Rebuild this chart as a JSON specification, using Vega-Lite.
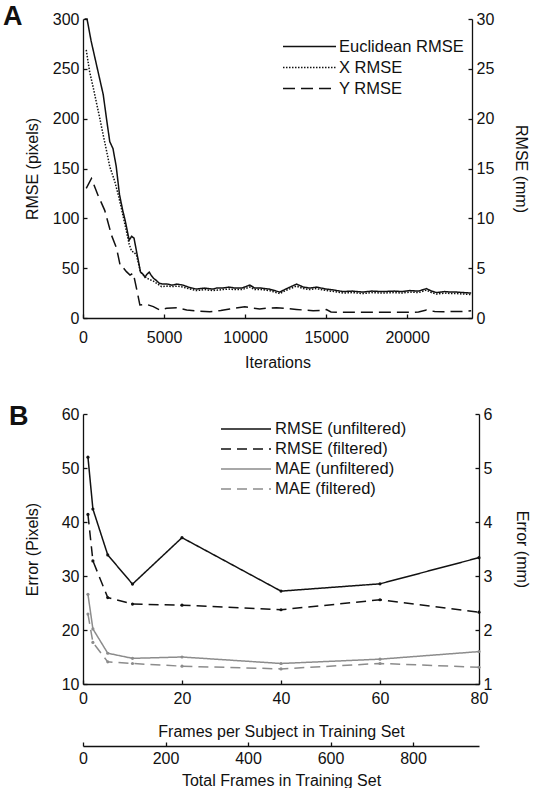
{
  "$schema": "https://vega.github.io/schema/vega-lite/v6.json",
  "padding": {"left": 3, "top": 3, "right": 0, "bottom": 0},
  "background": "white",
  "spacing": 33,
  "resolve": {"scale": {"color": "independent", "strokeDash": "independent"}, "legend": {"color": "independent", "strokeDash": "independent"}},
  "config": {
    "view": {"stroke": null},
    "font": "Liberation Sans",
    "axis": {
      "domainColor": "#111", "domainWidth": 1.3, "tickColor": "#111", "tickWidth": 1.3, "tickSize": -4,
      "labelFont": "Liberation Sans", "labelFontSize": 16, "labelColor": "#111",
      "titleFont": "Liberation Sans", "titleFontSize": 16, "titleFontWeight": "normal", "titleColor": "#111",
      "grid": false, "labelFlush": false, "labelOverlap": false
    },
    "axisY": {"labelPadding": 8},
    "legend": {"labelFont": "Liberation Sans", "labelColor": "#111"},
    "title": {"font": "Liberation Sans", "color": "#111"}
  },
  "vconcat": [
    {
      "title": {"text": "A", "anchor": "start", "frame": "group", "dx": -80, "fontSize": 27, "fontWeight": "bold", "offset": -20},
      "width": 389,
      "height": 299,
      "layer": [
        {
          "data": {"values": [
            {"s": "Euclidean RMSE", "i": 100, "v": 300}, {"s": "Euclidean RMSE", "i": 250, "v": 300}, {"s": "Euclidean RMSE", "i": 500, "v": 278}, {"s": "Euclidean RMSE", "i": 750, "v": 260}, {"s": "Euclidean RMSE", "i": 1000, "v": 242}, {"s": "Euclidean RMSE", "i": 1250, "v": 224}, {"s": "Euclidean RMSE", "i": 1450, "v": 200}, {"s": "Euclidean RMSE", "i": 1650, "v": 177}, {"s": "Euclidean RMSE", "i": 1850, "v": 170}, {"s": "Euclidean RMSE", "i": 2050, "v": 152}, {"s": "Euclidean RMSE", "i": 2250, "v": 124}, {"s": "Euclidean RMSE", "i": 2450, "v": 108}, {"s": "Euclidean RMSE", "i": 2600, "v": 98}, {"s": "Euclidean RMSE", "i": 2850, "v": 78}, {"s": "Euclidean RMSE", "i": 3000, "v": 82}, {"s": "Euclidean RMSE", "i": 3150, "v": 80}, {"s": "Euclidean RMSE", "i": 3300, "v": 67}, {"s": "Euclidean RMSE", "i": 3550, "v": 46}, {"s": "Euclidean RMSE", "i": 3700, "v": 44}, {"s": "Euclidean RMSE", "i": 3820, "v": 41}, {"s": "Euclidean RMSE", "i": 3950, "v": 44}, {"s": "Euclidean RMSE", "i": 4090, "v": 46}, {"s": "Euclidean RMSE", "i": 4200, "v": 43}, {"s": "Euclidean RMSE", "i": 4340, "v": 40}, {"s": "Euclidean RMSE", "i": 4500, "v": 38}, {"s": "Euclidean RMSE", "i": 4700, "v": 35}, {"s": "Euclidean RMSE", "i": 4940, "v": 34}, {"s": "Euclidean RMSE", "i": 5200, "v": 34}, {"s": "Euclidean RMSE", "i": 5500, "v": 33}, {"s": "Euclidean RMSE", "i": 5800, "v": 34}, {"s": "Euclidean RMSE", "i": 6170, "v": 33}, {"s": "Euclidean RMSE", "i": 6500, "v": 31}, {"s": "Euclidean RMSE", "i": 7000, "v": 29}, {"s": "Euclidean RMSE", "i": 7500, "v": 30}, {"s": "Euclidean RMSE", "i": 8000, "v": 29}, {"s": "Euclidean RMSE", "i": 8230, "v": 30}, {"s": "Euclidean RMSE", "i": 8600, "v": 30}, {"s": "Euclidean RMSE", "i": 9000, "v": 31}, {"s": "Euclidean RMSE", "i": 9400, "v": 30}, {"s": "Euclidean RMSE", "i": 9800, "v": 30}, {"s": "Euclidean RMSE", "i": 10290, "v": 33}, {"s": "Euclidean RMSE", "i": 10600, "v": 30}, {"s": "Euclidean RMSE", "i": 11000, "v": 30}, {"s": "Euclidean RMSE", "i": 11500, "v": 29}, {"s": "Euclidean RMSE", "i": 12140, "v": 26}, {"s": "Euclidean RMSE", "i": 12500, "v": 29}, {"s": "Euclidean RMSE", "i": 13170, "v": 34}, {"s": "Euclidean RMSE", "i": 13600, "v": 31}, {"s": "Euclidean RMSE", "i": 14000, "v": 30}, {"s": "Euclidean RMSE", "i": 14400, "v": 31}, {"s": "Euclidean RMSE", "i": 15020, "v": 29}, {"s": "Euclidean RMSE", "i": 15500, "v": 28}, {"s": "Euclidean RMSE", "i": 16040, "v": 26.5}, {"s": "Euclidean RMSE", "i": 16600, "v": 27}, {"s": "Euclidean RMSE", "i": 17280, "v": 26}, {"s": "Euclidean RMSE", "i": 17800, "v": 27}, {"s": "Euclidean RMSE", "i": 18510, "v": 26.5}, {"s": "Euclidean RMSE", "i": 19200, "v": 27}, {"s": "Euclidean RMSE", "i": 19700, "v": 26.5}, {"s": "Euclidean RMSE", "i": 20160, "v": 27.5}, {"s": "Euclidean RMSE", "i": 20700, "v": 27}, {"s": "Euclidean RMSE", "i": 21190, "v": 29.5}, {"s": "Euclidean RMSE", "i": 21500, "v": 27}, {"s": "Euclidean RMSE", "i": 21810, "v": 25.5}, {"s": "Euclidean RMSE", "i": 22300, "v": 26.5}, {"s": "Euclidean RMSE", "i": 22700, "v": 26}, {"s": "Euclidean RMSE", "i": 23040, "v": 26}, {"s": "Euclidean RMSE", "i": 23500, "v": 25.5}, {"s": "Euclidean RMSE", "i": 23950, "v": 25},
            {"s": "X RMSE", "i": 200, "v": 269}, {"s": "X RMSE", "i": 410, "v": 247}, {"s": "X RMSE", "i": 620, "v": 232}, {"s": "X RMSE", "i": 830, "v": 216}, {"s": "X RMSE", "i": 1040, "v": 200}, {"s": "X RMSE", "i": 1240, "v": 184}, {"s": "X RMSE", "i": 1450, "v": 168}, {"s": "X RMSE", "i": 1650, "v": 152}, {"s": "X RMSE", "i": 1960, "v": 137}, {"s": "X RMSE", "i": 2170, "v": 124}, {"s": "X RMSE", "i": 2370, "v": 110}, {"s": "X RMSE", "i": 2680, "v": 87}, {"s": "X RMSE", "i": 2850, "v": 74}, {"s": "X RMSE", "i": 3000, "v": 67}, {"s": "X RMSE", "i": 3150, "v": 66}, {"s": "X RMSE", "i": 3300, "v": 63}, {"s": "X RMSE", "i": 3550, "v": 46}, {"s": "X RMSE", "i": 3920, "v": 40}, {"s": "X RMSE", "i": 4340, "v": 37}, {"s": "X RMSE", "i": 4850, "v": 31.5}, {"s": "X RMSE", "i": 5200, "v": 32}, {"s": "X RMSE", "i": 5500, "v": 31.5}, {"s": "X RMSE", "i": 5800, "v": 32}, {"s": "X RMSE", "i": 6170, "v": 31}, {"s": "X RMSE", "i": 6500, "v": 29.5}, {"s": "X RMSE", "i": 7000, "v": 27.5}, {"s": "X RMSE", "i": 7500, "v": 28.5}, {"s": "X RMSE", "i": 8000, "v": 27.5}, {"s": "X RMSE", "i": 8600, "v": 28.5}, {"s": "X RMSE", "i": 9000, "v": 29}, {"s": "X RMSE", "i": 9400, "v": 28.5}, {"s": "X RMSE", "i": 9800, "v": 28.5}, {"s": "X RMSE", "i": 10290, "v": 31}, {"s": "X RMSE", "i": 10600, "v": 28.5}, {"s": "X RMSE", "i": 11000, "v": 28.5}, {"s": "X RMSE", "i": 11500, "v": 27.5}, {"s": "X RMSE", "i": 12140, "v": 24.5}, {"s": "X RMSE", "i": 12500, "v": 27.5}, {"s": "X RMSE", "i": 13170, "v": 32}, {"s": "X RMSE", "i": 13600, "v": 29.5}, {"s": "X RMSE", "i": 14000, "v": 28.5}, {"s": "X RMSE", "i": 14400, "v": 29.5}, {"s": "X RMSE", "i": 15020, "v": 27.5}, {"s": "X RMSE", "i": 15500, "v": 26.5}, {"s": "X RMSE", "i": 16040, "v": 25}, {"s": "X RMSE", "i": 16600, "v": 25.5}, {"s": "X RMSE", "i": 17280, "v": 24.5}, {"s": "X RMSE", "i": 17800, "v": 25.5}, {"s": "X RMSE", "i": 18510, "v": 25}, {"s": "X RMSE", "i": 19200, "v": 25.5}, {"s": "X RMSE", "i": 19700, "v": 25}, {"s": "X RMSE", "i": 20160, "v": 26}, {"s": "X RMSE", "i": 20700, "v": 25.5}, {"s": "X RMSE", "i": 21190, "v": 28}, {"s": "X RMSE", "i": 21500, "v": 25.5}, {"s": "X RMSE", "i": 21810, "v": 24}, {"s": "X RMSE", "i": 22300, "v": 25}, {"s": "X RMSE", "i": 22700, "v": 24.5}, {"s": "X RMSE", "i": 23040, "v": 24.5}, {"s": "X RMSE", "i": 23500, "v": 24}, {"s": "X RMSE", "i": 23950, "v": 23.5},
            {"s": "Y RMSE", "i": 200, "v": 130}, {"s": "Y RMSE", "i": 520, "v": 140}, {"s": "Y RMSE", "i": 930, "v": 123}, {"s": "Y RMSE", "i": 1340, "v": 108}, {"s": "Y RMSE", "i": 1760, "v": 83}, {"s": "Y RMSE", "i": 2070, "v": 70}, {"s": "Y RMSE", "i": 2310, "v": 51.5}, {"s": "Y RMSE", "i": 2500, "v": 50}, {"s": "Y RMSE", "i": 2680, "v": 46.5}, {"s": "Y RMSE", "i": 2900, "v": 43}, {"s": "Y RMSE", "i": 3100, "v": 45}, {"s": "Y RMSE", "i": 3350, "v": 26}, {"s": "Y RMSE", "i": 3510, "v": 13}, {"s": "Y RMSE", "i": 3920, "v": 13.7}, {"s": "Y RMSE", "i": 4340, "v": 11.4}, {"s": "Y RMSE", "i": 4750, "v": 8}, {"s": "Y RMSE", "i": 5160, "v": 9.7}, {"s": "Y RMSE", "i": 5780, "v": 10.4}, {"s": "Y RMSE", "i": 6400, "v": 8}, {"s": "Y RMSE", "i": 7000, "v": 7}, {"s": "Y RMSE", "i": 7820, "v": 6.3}, {"s": "Y RMSE", "i": 8500, "v": 7.5}, {"s": "Y RMSE", "i": 9050, "v": 9}, {"s": "Y RMSE", "i": 9980, "v": 11.3}, {"s": "Y RMSE", "i": 10400, "v": 10}, {"s": "Y RMSE", "i": 10900, "v": 9}, {"s": "Y RMSE", "i": 11400, "v": 10}, {"s": "Y RMSE", "i": 11930, "v": 10.3}, {"s": "Y RMSE", "i": 12600, "v": 9.5}, {"s": "Y RMSE", "i": 13170, "v": 8.6}, {"s": "Y RMSE", "i": 13600, "v": 8}, {"s": "Y RMSE", "i": 14200, "v": 7.3}, {"s": "Y RMSE", "i": 14700, "v": 7.5}, {"s": "Y RMSE", "i": 15020, "v": 8.5}, {"s": "Y RMSE", "i": 15300, "v": 6}, {"s": "Y RMSE", "i": 16040, "v": 5.7}, {"s": "Y RMSE", "i": 17000, "v": 5.7}, {"s": "Y RMSE", "i": 18100, "v": 5.7}, {"s": "Y RMSE", "i": 19000, "v": 5.8}, {"s": "Y RMSE", "i": 20160, "v": 5.7}, {"s": "Y RMSE", "i": 20700, "v": 6}, {"s": "Y RMSE", "i": 21190, "v": 8}, {"s": "Y RMSE", "i": 21700, "v": 6.5}, {"s": "Y RMSE", "i": 22220, "v": 6.3}, {"s": "Y RMSE", "i": 22800, "v": 6.5}, {"s": "Y RMSE", "i": 23400, "v": 6.6}, {"s": "Y RMSE", "i": 23950, "v": 7.3}
          ]},
          "mark": {"type": "line", "strokeWidth": 1.5, "color": "#111"},
          "encoding": {
            "x": {"field": "i", "type": "quantitative", "scale": {"domain": [0, 24000], "nice": false},
                  "axis": {"values": [0, 5000, 10000, 15000, 20000], "format": "d", "title": "Iterations", "labelPadding": 15, "titlePadding": 9}},
            "y": {"field": "v", "type": "quantitative", "scale": {"domain": [0, 300], "nice": false},
                  "axis": {"values": [0, 50, 100, 150, 200, 250, 300], "title": "RMSE (pixels)", "titlePadding": 12}},
            "strokeDash": {"field": "s", "type": "nominal",
                  "scale": {"domain": ["Euclidean RMSE", "X RMSE", "Y RMSE"], "range": [[1, 0], [1.5, 1.5], [12, 6]]},
                  "legend": {"title": null, "orient": "none", "legendX": 199, "legendY": 18, "symbolType": "stroke", "symbolSize": 2809, "symbolStrokeWidth": 1.5, "symbolStrokeColor": "#111", "clipHeight": 19, "rowPadding": 2, "labelOffset": 2, "labelFontSize": 16.5, "padding": 0}}
          }
        },
        {
          "data": {"values": [{}]},
          "mark": {"type": "point", "opacity": 0},
          "encoding": {
            "y": {"datum": 0, "type": "quantitative", "scale": {"domain": [0, 30], "nice": false},
                  "axis": {"orient": "right", "values": [0, 5, 10, 15, 20, 25, 30], "title": "RMSE (mm)", "titlePadding": 19}}
          }
        }
      ],
      "resolve": {"scale": {"y": "independent"}}
    },
    {
      "title": {"text": "B", "anchor": "start", "frame": "group", "dx": -74, "fontSize": 27, "fontWeight": "bold", "offset": -25},
      "width": 396,
      "height": 270,
      "layer": [
        {
          "data": {"values": [
            {"s": "RMSE (unfiltered)", "f": 1, "v": 52}, {"s": "RMSE (unfiltered)", "f": 2, "v": 42.4}, {"s": "RMSE (unfiltered)", "f": 5, "v": 33.9}, {"s": "RMSE (unfiltered)", "f": 10, "v": 28.5}, {"s": "RMSE (unfiltered)", "f": 20, "v": 37.1}, {"s": "RMSE (unfiltered)", "f": 40, "v": 27.2}, {"s": "RMSE (unfiltered)", "f": 60, "v": 28.55}, {"s": "RMSE (unfiltered)", "f": 80, "v": 33.4},
            {"s": "RMSE (filtered)", "f": 1, "v": 41.4}, {"s": "RMSE (filtered)", "f": 2, "v": 32.8}, {"s": "RMSE (filtered)", "f": 5, "v": 26.0}, {"s": "RMSE (filtered)", "f": 10, "v": 24.8}, {"s": "RMSE (filtered)", "f": 20, "v": 24.6}, {"s": "RMSE (filtered)", "f": 40, "v": 23.75}, {"s": "RMSE (filtered)", "f": 60, "v": 25.6}, {"s": "RMSE (filtered)", "f": 80, "v": 23.3},
            {"s": "MAE (unfiltered)", "f": 1, "v": 26.6}, {"s": "MAE (unfiltered)", "f": 2, "v": 20.2}, {"s": "MAE (unfiltered)", "f": 5, "v": 15.7}, {"s": "MAE (unfiltered)", "f": 10, "v": 14.75}, {"s": "MAE (unfiltered)", "f": 20, "v": 15.0}, {"s": "MAE (unfiltered)", "f": 40, "v": 13.8}, {"s": "MAE (unfiltered)", "f": 60, "v": 14.6}, {"s": "MAE (unfiltered)", "f": 80, "v": 16.0},
            {"s": "MAE (filtered)", "f": 1, "v": 22.95}, {"s": "MAE (filtered)", "f": 2, "v": 17.7}, {"s": "MAE (filtered)", "f": 5, "v": 14.1}, {"s": "MAE (filtered)", "f": 10, "v": 13.8}, {"s": "MAE (filtered)", "f": 20, "v": 13.3}, {"s": "MAE (filtered)", "f": 40, "v": 12.8}, {"s": "MAE (filtered)", "f": 60, "v": 13.8}, {"s": "MAE (filtered)", "f": 80, "v": 13.1}
          ]},
          "mark": {"type": "line", "strokeWidth": 1.5, "point": {"filled": true, "size": 10}},
          "encoding": {
            "x": {"field": "f", "type": "quantitative", "scale": {"domain": [0, 80], "nice": false},
                  "axis": {"values": [0, 20, 40, 60, 80], "title": "Frames per Subject in Training Set", "labelPadding": 10, "titlePadding": 17}},
            "y": {"field": "v", "type": "quantitative", "scale": {"domain": [10, 60], "nice": false},
                  "axis": {"values": [10, 20, 30, 40, 50, 60], "title": "Error (Pixels)", "titlePadding": 21}},
            "color": {"field": "s", "type": "nominal",
                  "scale": {"domain": ["RMSE (unfiltered)", "RMSE (filtered)", "MAE (unfiltered)", "MAE (filtered)"], "range": ["#111111", "#111111", "#8c8c8c", "#8c8c8c"]},
                  "legend": {"title": null, "orient": "none", "legendX": 137, "legendY": 6, "symbolType": "stroke", "symbolSize": 2500, "symbolStrokeWidth": 1.5, "clipHeight": 18, "rowPadding": 2, "labelOffset": 3, "labelFontSize": 16.5, "padding": 0}},
            "strokeDash": {"field": "s", "type": "nominal",
                  "scale": {"domain": ["RMSE (unfiltered)", "RMSE (filtered)", "MAE (unfiltered)", "MAE (filtered)"], "range": [[1, 0], [10, 6], [1, 0], [10, 6]]},
                  "legend": {"title": null, "orient": "none", "legendX": 137, "legendY": 6, "symbolType": "stroke", "symbolSize": 2500, "symbolStrokeWidth": 1.5, "clipHeight": 18, "rowPadding": 2, "labelOffset": 3, "labelFontSize": 16.5, "padding": 0}}
          }
        },
        {
          "data": {"values": [{}]},
          "mark": {"type": "point", "opacity": 0},
          "encoding": {
            "x": {"datum": 0, "type": "quantitative", "scale": {"domain": [0, 960], "nice": false},
                  "axis": {"orient": "bottom", "offset": 62, "values": [0, 200, 400, 600, 800], "title": "Total Frames in Training Set", "labelPadding": 8, "titlePadding": 6}},
            "y": {"datum": 1, "type": "quantitative", "scale": {"domain": [1, 6], "nice": false},
                  "axis": {"orient": "right", "values": [1, 2, 3, 4, 5, 6], "title": "Error (mm)", "titlePadding": 22}}
          }
        }
      ],
      "resolve": {"scale": {"x": "independent", "y": "independent"}}
    }
  ]
}
